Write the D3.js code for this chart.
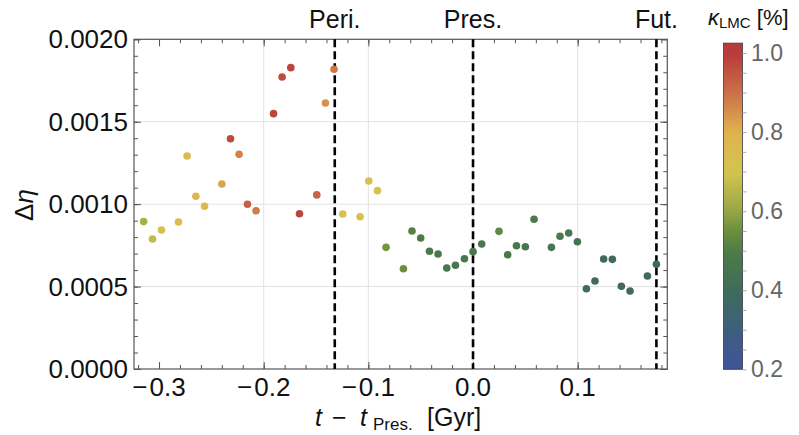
<!DOCTYPE html>
<html>
<head>
<meta charset="utf-8">
<script src="https://cdn.jsdelivr.net/npm/d3@7"></script>
<style>
  body { margin: 0; background: #fff; }
  svg { font-family: "Liberation Sans", Arial, sans-serif; }
</style>
</head>
<body>
<div id="chart"></div>
<script>
// time relative to present [Gyr]
const times = [-0.3147, -0.3062, -0.2976, -0.2814, -0.2732, -0.2648, -0.2565, -0.2400, -0.2317, -0.2235,
               -0.2155, -0.2073, -0.1906, -0.1824, -0.1741, -0.1658, -0.1493, -0.1410, -0.1328, -0.1245,
               -0.1079, -0.0996, -0.0913, -0.0831, -0.0665, -0.0583, -0.0500, -0.0416, -0.0334, -0.0251,
               -0.0168, -0.0082, 0.0000, 0.0083, 0.0248, 0.0331, 0.0415, 0.0500, 0.0583, 0.0749,
               0.0831, 0.0914, 0.0997, 0.1083, 0.1165, 0.1248, 0.1331, 0.1417, 0.1500, 0.1666, 0.1752];
// delta eta
const deltaEta = [0.000894, 0.000789, 0.000843, 0.000892, 0.001292, 0.001048, 0.000987, 0.001122, 0.001397, 0.001302,
                  0.000999, 0.000960, 0.001549, 0.001771, 0.001828, 0.000942, 0.001056, 0.001614, 0.001818, 0.000940,
                  0.000924, 0.001140, 0.001082, 0.000738, 0.000608, 0.000837, 0.000795, 0.000714, 0.000698, 0.000613,
                  0.000629, 0.000669, 0.000712, 0.000758, 0.000835, 0.000693, 0.000748, 0.000742, 0.000908, 0.000738,
                  0.000805, 0.000825, 0.000772, 0.000487, 0.000534, 0.000667, 0.000665, 0.000502, 0.000473, 0.000564, 0.000635];
// kappa LMC [%] (colour)
const kappa = [0.63, 0.67, 0.71, 0.73, 0.75, 0.78, 0.76, 0.82, 0.97, 0.87,
               0.93, 0.88, 0.98, 0.97, 0.98, 0.98, 0.92, 0.85, 0.89, 0.73,
               0.72, 0.73, 0.71, 0.56, 0.55, 0.51, 0.49, 0.47, 0.47, 0.46,
               0.46, 0.46, 0.47, 0.47, 0.53, 0.47, 0.47, 0.46, 0.48, 0.46,
               0.47, 0.46, 0.45, 0.39, 0.39, 0.38, 0.38, 0.38, 0.38, 0.38, 0.38];

const eventLabels = ["Peri.", "Pres.", "Fut."];
const eventTimes = [-0.1321, 0.0, 0.1752];

const xTicks = [-0.3, -0.2, -0.1, 0.0, 0.1];
const xGrid = [-0.2, -0.1, 0.0, 0.1];
const yTicks = [0, 0.0005, 0.001, 0.0015, 0.002];
const cTicks = [0.2, 0.4, 0.6, 0.8, 1.0];

// colour map stops (DarkRainbow-like)
const cStops = [0.2, 0.3, 0.4, 0.5, 0.55, 0.6, 0.7, 0.8, 0.9, 1.0];
const cColors = ["#3e549c", "#3d5f7c", "#3f6b5c", "#4e7d45", "#6a8f3e", "#98a645", "#d4c44e", "#e0b24e", "#cc6f48", "#b83a3a"];

const W = 799, H = 435;
const m = {left: 134, right: 667.3, top: 39.3, bottom: 369};

const svg = d3.select("#chart").append("svg")
  .attr("width", W).attr("height", H);

const x = d3.scaleLinear().domain([-0.3239, 0.1856]).range([m.left, m.right]);
const y = d3.scaleLinear().domain([0, 0.002]).range([m.bottom, m.top]);
const color = d3.scaleLinear().domain(cStops).range(cColors).clamp(true);

// grid lines
svg.append("g").selectAll("line").data(xGrid).join("line")
  .attr("x1", d => x(d)).attr("x2", d => x(d))
  .attr("y1", m.top).attr("y2", m.bottom)
  .attr("stroke", "#e2e2e2").attr("stroke-width", 1);
svg.append("g").selectAll("line").data(yTicks.slice(1, -1)).join("line")
  .attr("x1", m.left).attr("x2", m.right)
  .attr("y1", d => y(d)).attr("y2", d => y(d))
  .attr("stroke", "#e2e2e2").attr("stroke-width", 1);

// axes with inward ticks on all sides
const xMinor = d3.range(-0.32, 0.19, 0.02);
const yMinor = d3.range(0, 0.00201, 0.0001);
const axisCol = "#555";

function tickAxis(axis, scale, vals, size, transform) {
  const g = svg.append("g").attr("transform", transform)
    .call(axis(scale).tickValues(vals).tickSize(size).tickFormat(""));
  g.select(".domain").remove();
  g.selectAll("line").attr("stroke", axisCol);
  return g;
}
tickAxis(d3.axisBottom, x, xMinor, -4, `translate(0,${m.bottom})`);
tickAxis(d3.axisBottom, x, xTicks, -7, `translate(0,${m.bottom})`);
tickAxis(d3.axisTop, x, xMinor, -4, `translate(0,${m.top})`);
tickAxis(d3.axisTop, x, xTicks, -7, `translate(0,${m.top})`);
tickAxis(d3.axisLeft, y, yMinor, -4, `translate(${m.left},0)`);
tickAxis(d3.axisLeft, y, yTicks, -7, `translate(${m.left},0)`);
tickAxis(d3.axisRight, y, yMinor, -4, `translate(${m.right},0)`);
tickAxis(d3.axisRight, y, yTicks, -7, `translate(${m.right},0)`);

svg.append("rect")
  .attr("x", m.left).attr("y", m.top)
  .attr("width", m.right - m.left).attr("height", m.bottom - m.top)
  .attr("fill", "none").attr("stroke", axisCol).attr("stroke-width", 1.2);

// tick labels
const xl = svg.append("g").selectAll("text").data(xTicks).join("text")
  .attr("x", d => x(d)).attr("y", m.bottom + 27)
  .attr("text-anchor", "middle").attr("font-size", 26).attr("fill", "#111");
xl.filter(d => d < 0).append("tspan").text("\u2212");
xl.append("tspan").attr("dx", d => d < 0 ? 2 : 0).text(d => d3.format(".1f")(Math.abs(d)));
svg.append("g").selectAll("text").data(yTicks).join("text")
  .attr("x", m.left - 6).attr("y", d => y(d) + 9)
  .attr("text-anchor", "end").attr("font-size", 26).attr("fill", "#111")
  .text(d => d3.format(".4f")(d));

// axis titles
const xt = svg.append("text").attr("y", 426).attr("font-size", 25).attr("fill", "#111");
xt.append("tspan").attr("x", 315).attr("font-style", "italic").text("t");
xt.append("tspan").attr("x", 332).text("\u2212");
xt.append("tspan").attr("x", 360).attr("font-style", "italic").text("t");
xt.append("tspan").attr("x", 373).attr("font-size", 17).attr("dy", 4).text("Pres.");
xt.append("tspan").attr("x", 427).attr("dy", -4).text("[Gyr]");

const yt = svg.append("text").attr("transform", "translate(33,205) rotate(-90)")
  .attr("text-anchor", "middle").attr("font-size", 26).attr("fill", "#111");
yt.append("tspan").text("\u0394");
yt.append("tspan").attr("font-style", "italic").text("\u03b7");

// event lines
svg.append("g").selectAll("line").data(eventTimes).join("line")
  .attr("x1", d => x(d)).attr("x2", d => x(d))
  .attr("y1", m.top).attr("y2", m.bottom)
  .attr("stroke", "#000").attr("stroke-width", 2.6)
  .attr("stroke-dasharray", "8,4");
svg.append("g").selectAll("text").data(eventTimes).join("text")
  .attr("x", d => x(d)).attr("y", 28)
  .attr("text-anchor", "middle").attr("font-size", 25).attr("fill", "#111")
  .text((d, i) => eventLabels[i]);

// points
svg.append("g").selectAll("circle").data(times).join("circle")
  .attr("cx", d => x(d))
  .attr("cy", (d, i) => y(deltaEta[i]))
  .attr("r", 3.8)
  .attr("fill", (d, i) => color(kappa[i]));

// colour bar
const cb = d3.scaleLinear().domain([0.2, 1.0]).range([369.3, 53]);
const cbTop = cb(1.025), cbX = 723.5, cbW = 19;
const grad = svg.append("defs").append("linearGradient")
  .attr("id", "cgrad").attr("x1", 0).attr("x2", 0).attr("y1", 1).attr("y2", 0);
grad.selectAll("stop").data(d3.range(0, 1.0001, 0.02)).join("stop")
  .attr("offset", d => d)
  .attr("stop-color", d => color(0.2 + d * 0.825));
svg.append("rect")
  .attr("x", cbX).attr("y", cbTop).attr("width", cbW).attr("height", cb(0.2) - cbTop)
  .attr("fill", "url(#cgrad)").attr("stroke", "#3a3a4a").attr("stroke-width", 0.8);
const cg = svg.append("g").attr("transform", `translate(${cbX + cbW},0)`)
  .call(d3.axisRight(cb).tickValues(d3.range(0.2, 1.001, 0.05)).tickSize(4).tickFormat(""));
cg.select(".domain").remove();
cg.selectAll("line").attr("stroke", "#aaa");
svg.append("g").selectAll("text").data(cTicks).join("text")
  .attr("x", 751).attr("y", d => cb(d) + 8)
  .attr("font-size", 23).attr("fill", "#666")
  .text(d => d3.format(".1f")(d));

const ct = svg.append("text").attr("x", 708).attr("y", 25)
  .attr("font-size", 22).attr("fill", "#111");
ct.append("tspan").attr("font-style", "italic").text("\u03ba");
ct.append("tspan").attr("font-size", 15).attr("dy", 3).text("LMC");
ct.append("tspan").attr("dy", -3).text(" [%]");
</script>
</body>
</html>
